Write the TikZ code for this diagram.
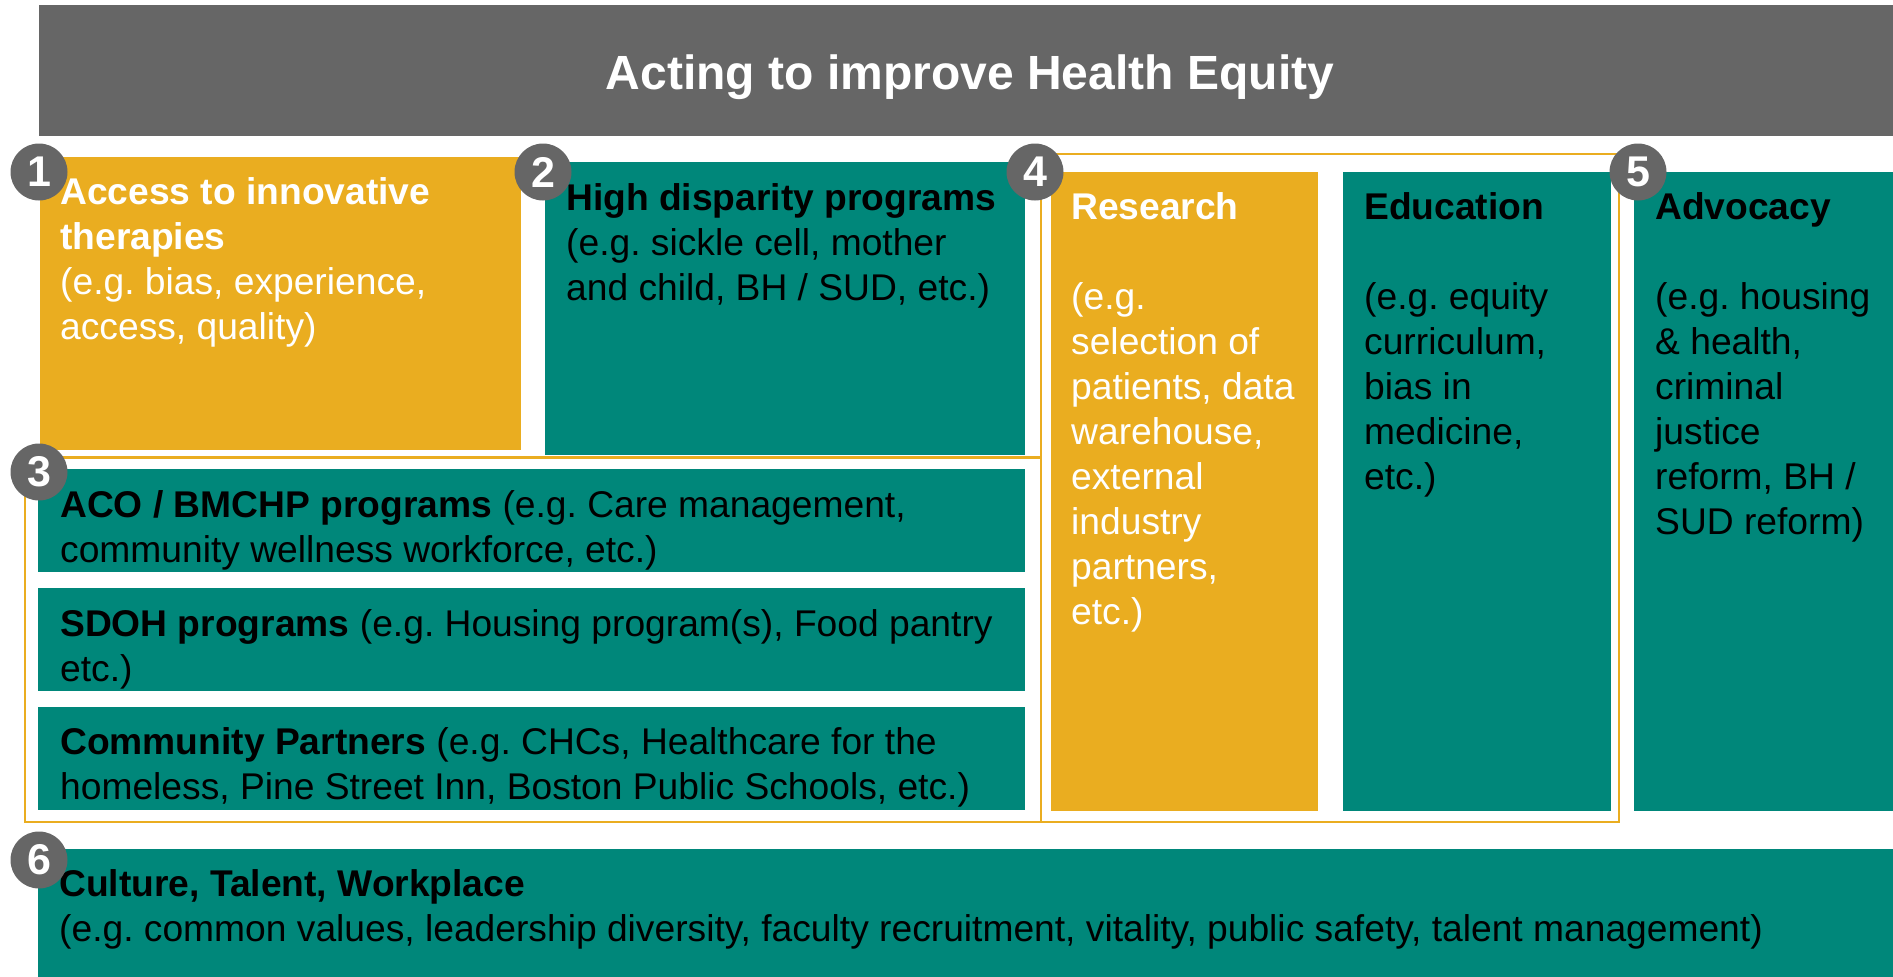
\documentclass[tikz,border=0pt]{standalone}
\usepackage{fontspec}
\setmainfont{Liberation Sans}
\usetikzlibrary{positioning, calc}
\definecolor{hegray}{HTML}{666666}
\definecolor{heorange}{HTML}{EAAD20}
\definecolor{heteal}{HTML}{00877A}
\frenchspacing

\begin{document}
\begin{tikzpicture}[x=1pt, y=-1pt,
        box/.style={rectangle, anchor=north west, inner sep=0pt, outer sep=0pt},
        tbox/.style={box, fill=heteal},
        obox/.style={box, fill=heorange},
        txt/.style={anchor=north west, inner sep=0pt, align=left, font=\fontsize{37.2}{45}\selectfont},
        badge/.style={circle, fill=hegray, minimum size=57pt, inner sep=0pt, text=white, font=\fontsize{43}{43}\selectfont\bfseries},
        grpframe/.style={draw=heorange, line width=2.5pt}
    ]
    \useasboundingbox (0,0) rectangle (1893,977);

    % header bar
    \node[box, fill=hegray, minimum width=1854pt, minimum height=131pt] (header) at (39,5) {};
    \node[anchor=base, text=white, font=\fontsize{48}{48}\selectfont\bfseries] (title) at ($(header.north)+(4,84)$) {Acting to improve Health Equity};

    % orange group frames
    \draw[grpframe] (25,457.5) rectangle (1041,822);
    \draw[grpframe] (1041,154) rectangle (1619,822);

    \node[obox, minimum width=481pt, minimum height=293pt] (access) at (40,157) {};
    \node[tbox, minimum width=480pt, minimum height=293pt] (disparity) at (545,162) {};
    \node[tbox, minimum width=987pt, minimum height=103pt] (aco) at (38,469) {};
    \node[tbox, minimum width=987pt, minimum height=103pt] (sdoh) at (38,588) {};
    \node[tbox, minimum width=987pt, minimum height=103pt] (partners) at (38,707) {};
    \node[obox, minimum width=267pt, minimum height=639pt] (research) at (1051,172) {};
    \node[tbox, minimum width=268pt, minimum height=639pt] (educ) at (1343,172) {};
    \node[tbox, minimum width=259pt, minimum height=639pt] (advoc) at (1634,172) {};
    \node[tbox, minimum width=1855pt, minimum height=128pt] (culture) at (38,849) {};

    \node[txt, text=white] (access-t) at ($(access.north west)+(20,20)$)
        {\textbf{Access to innovative}\\\textbf{therapies}\\(e.g. bias, experience,\\access, quality)};
    \node[txt] (disparity-t) at ($(disparity.north west)+(21,21)$)
        {\textbf{High disparity programs}\\(e.g. sickle cell, mother\\and child, BH / SUD, etc.)};
    \node[txt] (aco-t) at ($(aco.north west)+(22,21)$)
        {\textbf{ACO / BMCHP programs} (e.g. Care management,\\community wellness workforce, etc.)};
    \node[txt] (sdoh-t) at ($(sdoh.north west)+(22,21)$)
        {\textbf{SDOH programs} (e.g. Housing program(s), Food pantry\\etc.)};
    \node[txt] (partners-t) at ($(partners.north west)+(22,20)$)
        {\textbf{Community Partners} (e.g. CHCs, Healthcare for the\\homeless, Pine Street Inn, Boston Public Schools, etc.)};
    \node[txt, text=white] (research-t) at ($(research.north west)+(20,20)$)
        {\textbf{Research}\\[45pt](e.g.\\selection of\\patients, data\\warehouse,\\external\\industry\\partners,\\etc.)};
    \node[txt] (educ-t) at ($(educ.north west)+(21,20)$)
        {\textbf{Education}\\[45pt](e.g. equity\\curriculum,\\bias in\\medicine,\\etc.)};
    \node[txt] (advoc-t) at ($(advoc.north west)+(21,20)$)
        {\textbf{Advocacy}\\[45pt](e.g. housing\\\& health,\\criminal\\justice\\reform, BH /\\SUD reform)};
    \node[txt] (culture-t) at ($(culture.north west)+(21,20)$)
        {\textbf{Culture, Talent, Workplace}\\(e.g. common values, leadership diversity, faculty recruitment, vitality, public safety, talent management)};

    % numbered badges
    \node[badge] (n1) at (39,172) {1};
    \node[badge] (n2) at (543,172) {2};
    \node[badge] (n3) at (39,472) {3};
    \node[badge] (n4) at (1035,172) {4};
    \node[badge] (n5) at (1638,172) {5};
    \node[badge] (n6) at (39,860) {6};
\end{tikzpicture}
\end{document}
